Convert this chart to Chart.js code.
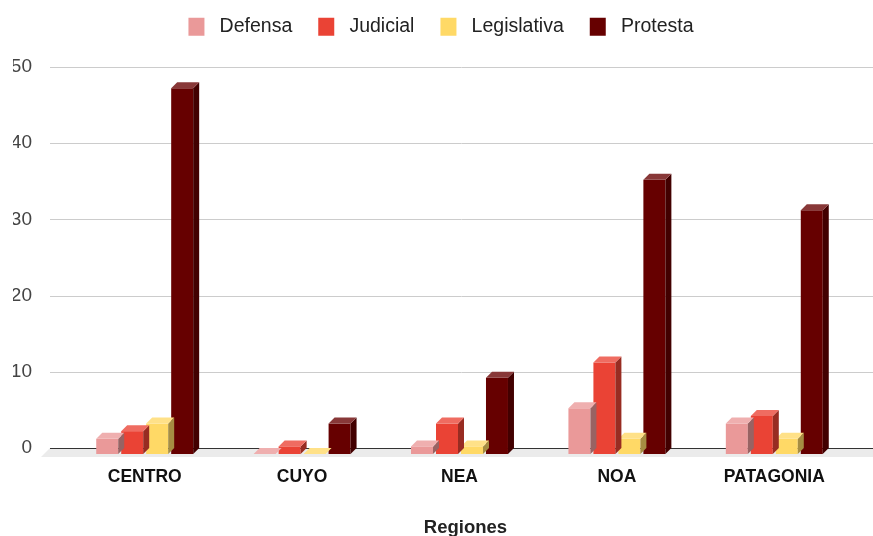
<!DOCTYPE html>
<html>
<head>
<meta charset="utf-8">
<script src="https://cdn.jsdelivr.net/npm/chart.js@4.4.1/dist/chart.umd.min.js"></script>
<style>
  html, body { margin: 0; padding: 0; background: #fff; }
  #wrap { width: 873px; height: 536px; }
</style>
</head>
<body>
<div id="wrap"><canvas id="chart"></canvas></div>
<script>
const regiones = ["CENTRO", "CUYO", "NEA", "NOA", "PATAGONIA"];
const defensa = [2, 0, 1, 6, 4];
const judicial = [3, 1, 4, 12, 5];
const legislativa = [4, 0, 1, 2, 2];
const protesta = [48, 4, 10, 36, 32];
const yTicks = [0, 10, 20, 30, 40, 50];

const colors = {
    Defensa: "#ea9999",
    Judicial: "#ea4335",
    Legislativa: "#ffd966",
    Protesta: "#660000",
};

// fake depth of the bars, in px
const DEPTH = 6;

// f > 0 lightens towards white, f < 0 darkens
function shade(hex, f) {
    const n = parseInt(hex.slice(1), 16);
    let r = n >> 16, g = (n >> 8) & 255, b = n & 255;
    if (f >= 0) {
        r += (255 - r) * f; g += (255 - g) * f; b += (255 - b) * f;
    } else {
        r *= 1 + f; g *= 1 + f; b *= 1 + f;
    }
    return `rgb(${Math.round(r)},${Math.round(g)},${Math.round(b)})`;
}

// floor + back wall gridlines, then bars pushed forward with top/side faces
const bars3d = {
    id: "bars3d",
    beforeDatasetsDraw(chart) {
        const { ctx, width, scales: { y } } = chart;
        const y0 = y.getPixelForValue(0);
        const x0 = 50;
        ctx.save();
        ctx.fillStyle = "#ebebeb";
        ctx.beginPath();
        ctx.moveTo(x0, y0);
        ctx.lineTo(width, y0);
        ctx.lineTo(width, y0 + 9);
        ctx.lineTo(x0 - 9, y0 + 9);
        ctx.closePath();
        ctx.fill();

        ctx.lineWidth = 1;
        yTicks.forEach((v) => {
            const py = Math.round(y.getPixelForValue(v)) + 0.5;
            ctx.strokeStyle = v === 0 ? "#333333" : "#cccccc";
            ctx.beginPath();
            ctx.moveTo(x0, py);
            ctx.lineTo(width, py);
            ctx.stroke();
        });
        ctx.restore();

        ctx.save();
        ctx.translate(-DEPTH, DEPTH);
    },
    afterDatasetDraw(chart, args) {
        const ctx = chart.ctx;
        const base = chart.data.datasets[args.index].backgroundColor;
        args.meta.data.forEach((bar) => {
            const p = bar.getProps(["x", "y", "base", "width"], true);
            const l = p.x - p.width / 2;
            const r = p.x + p.width / 2;

            ctx.fillStyle = shade(base, -0.35);
            ctx.beginPath();
            ctx.moveTo(r, p.y);
            ctx.lineTo(r + DEPTH, p.y - DEPTH);
            ctx.lineTo(r + DEPTH, p.base - DEPTH);
            ctx.lineTo(r, p.base);
            ctx.closePath();
            ctx.fill();

            ctx.fillStyle = shade(base, 0.22);
            ctx.beginPath();
            ctx.moveTo(l, p.y);
            ctx.lineTo(r, p.y);
            ctx.lineTo(r + DEPTH, p.y - DEPTH);
            ctx.lineTo(l + DEPTH, p.y - DEPTH);
            ctx.closePath();
            ctx.fill();
        });
    },
    afterDatasetsDraw(chart) {
        chart.ctx.restore();
    },
};

// extra room under the legend, and nudge it a bit to the right
const legendGap = {
    id: "legendGap",
    beforeInit(chart) {
        const legend = chart.legend;
        const fit = legend.fit;
        legend.fit = function () {
            fit.call(legend);
            this.height += 20.5;
        };
        const draw = legend.draw;
        legend.draw = function () {
            chart.ctx.save();
            chart.ctx.translate(5, 0);
            draw.call(legend);
            chart.ctx.restore();
        };
    },
};

const makeSet = (label, data) => ({
    label,
    data,
    backgroundColor: colors[label],
    borderWidth: 0,
    clip: false,
});

Chart.defaults.font.family = "Arial, 'Liberation Sans', sans-serif";

new Chart(document.getElementById("chart"), {
    type: "bar",
    data: {
        labels: regiones,
        datasets: [
            makeSet("Defensa", defensa),
            makeSet("Judicial", judicial),
            makeSet("Legislativa", legislativa),
            makeSet("Protesta", protesta),
        ],
    },
    options: {
        responsive: true,
        maintainAspectRatio: false,
        animation: false,
        events: [],
        categoryPercentage: 0.635,
        barPercentage: 0.88,
        layout: { padding: { top: -9, left: 13, right: 14, bottom: 0 } },
        plugins: {
            legend: {
                position: "top",
                labels: {
                    boxWidth: 16,
                    boxHeight: 18,
                    padding: 26,
                    color: "#222222",
                    font: { size: 19.5 },
                    // a little more air between swatch and text
                    generateLabels: (chart) =>
                        Chart.defaults.plugins.legend.labels
                            .generateLabels(chart)
                            .map((item) => ({ ...item, text: " " + item.text })),
                },
            },
            tooltip: { enabled: false },
        },
        scales: {
            x: {
                afterFit: (axis) => { axis.height = 88; },
                grid: { display: false, drawTicks: false },
                border: { display: false },
                ticks: {
                    color: "#111111",
                    font: { size: 17.5, weight: "bold" },
                    padding: 19,
                    labelOffset: -DEPTH,
                },
                title: {
                    display: true,
                    text: "Regiones",
                    color: "#222222",
                    font: { size: 18.5, weight: "bold" },
                    padding: { top: 28, bottom: -3 },
                },
            },
            y: {
                min: 0,
                max: 50,
                afterFit: (axis) => { axis.width = 59; },
                afterBuildTicks: (axis) => {
                    axis.ticks = yTicks.map((v) => ({ value: v }));
                },
                grid: { display: false, drawTicks: false },
                border: { display: false },
                ticks: {
                    color: "#444444",
                    font: { size: 19 },
                    padding: 40,
                },
            },
        },
    },
    plugins: [bars3d, legendGap],
});
</script>
</body>
</html>
